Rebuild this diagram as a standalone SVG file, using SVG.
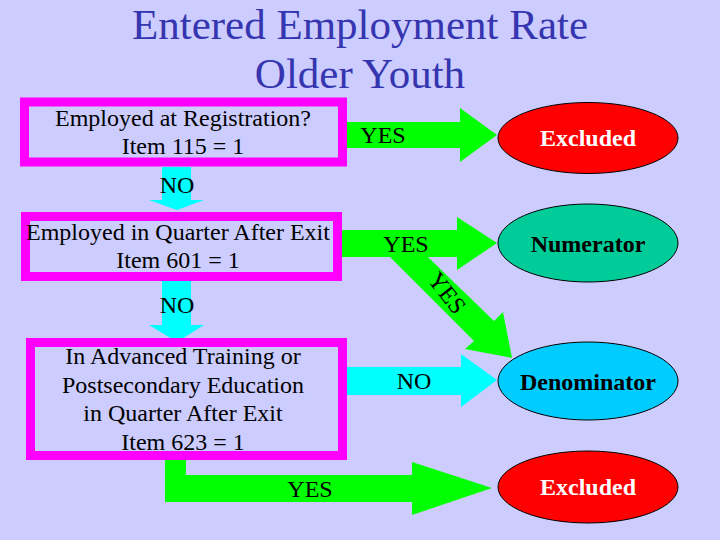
<svg xmlns="http://www.w3.org/2000/svg" width="720" height="540" viewBox="0 0 720 540">
<style>
text{font-family:"Liberation Serif","Times New Roman",serif;}
.title{font-size:43px;fill:#3535B0;text-anchor:middle;}
.lbl{font-size:24px;fill:#000;text-anchor:middle;}
.box{fill:none;stroke:#FF00FF;stroke-width:9;}
.ell{stroke:#000;stroke-width:1;}
.etxt{font-size:24px;font-weight:bold;text-anchor:middle;}
.green{fill:#00FF00;}
.cyan{fill:#00FFFF;}
</style>
<rect width="720" height="540" fill="#CCCCFF"/>
<text class="title" x="360" y="39">Entered Employment Rate</text>
<text class="title" x="360" y="88">Older Youth</text>

<g id="connectors">
  <polygon class="green" points="347,122 460,122 460,108 497,135 460,162 460,148 347,148"/>
  <text class="lbl" x="383" y="143">YES</text>
  <polygon class="cyan" points="162,167 191,167 191,200 204,200 177,210 149,200 162,200"/>
  <text class="lbl" x="177" y="193">NO</text>
  <polygon class="green" points="342,230 457,230 457,217 497,243 457,270 457,257 342,257"/>
  <polygon class="green" points="400,230 494,321 503,312 512,358 465,349 474,341 390,257"/>
  <text class="lbl" x="406" y="252">YES</text>
  <text class="lbl" transform="translate(447,293) rotate(52)" x="0" y="8">YES</text>
  <polygon class="cyan" points="162,281 191,281 191,325 204,325 177,342 149,325 162,325"/>
  <text class="lbl" x="177" y="313">NO</text>
  <polygon class="cyan" points="347,367 461,367 461,354 497,380 461,407 461,395 347,395"/>
  <text class="lbl" x="414" y="389">NO</text>
  <polygon class="green" points="165,460 186,460 186,475 412,475 412,462 492,488 412,515 412,502 165,502"/>
  <text class="lbl" x="310" y="497">YES</text>
</g>

<g id="box1">
  <rect class="box" x="24.5" y="102" width="318" height="60"/>
  <text class="lbl" x="183" y="126">Employed at Registration?</text>
  <text class="lbl" x="183" y="154">Item 115 = 1</text>
</g>
<g id="box2">
  <rect class="box" x="25.5" y="216.5" width="312" height="60"/>
  <text class="lbl" x="178" y="240">Employed in Quarter After Exit</text>
  <text class="lbl" x="178" y="268">Item 601 = 1</text>
</g>
<g id="box3">
  <rect class="box" x="30.5" y="342.5" width="312" height="113"/>
  <text class="lbl" x="183" y="364">In Advanced Training or</text>
  <text class="lbl" x="183" y="392.5">Postsecondary Education</text>
  <text class="lbl" x="183" y="421">in Quarter After Exit</text>
  <text class="lbl" x="183" y="449.5">Item 623 = 1</text>
</g>

<g id="excluded1">
  <ellipse class="ell" cx="588" cy="138" rx="90" ry="35.5" fill="#FF0000"/>
  <text class="etxt" x="588" y="146" fill="#FFFFFF">Excluded</text>
</g>
<g id="numerator">
  <ellipse class="ell" cx="588" cy="243" rx="90" ry="39" fill="#00CC99"/>
  <text class="etxt" x="588" y="252" fill="#000">Numerator</text>
</g>
<g id="denominator">
  <ellipse class="ell" cx="588" cy="381" rx="90" ry="39" fill="#00CCFF"/>
  <text class="etxt" x="588" y="390" fill="#000">Denominator</text>
</g>
<g id="excluded2">
  <ellipse class="ell" cx="588" cy="487" rx="90" ry="36" fill="#FF0000"/>
  <text class="etxt" x="588" y="495" fill="#FFFFFF">Excluded</text>
</g>
</svg>
